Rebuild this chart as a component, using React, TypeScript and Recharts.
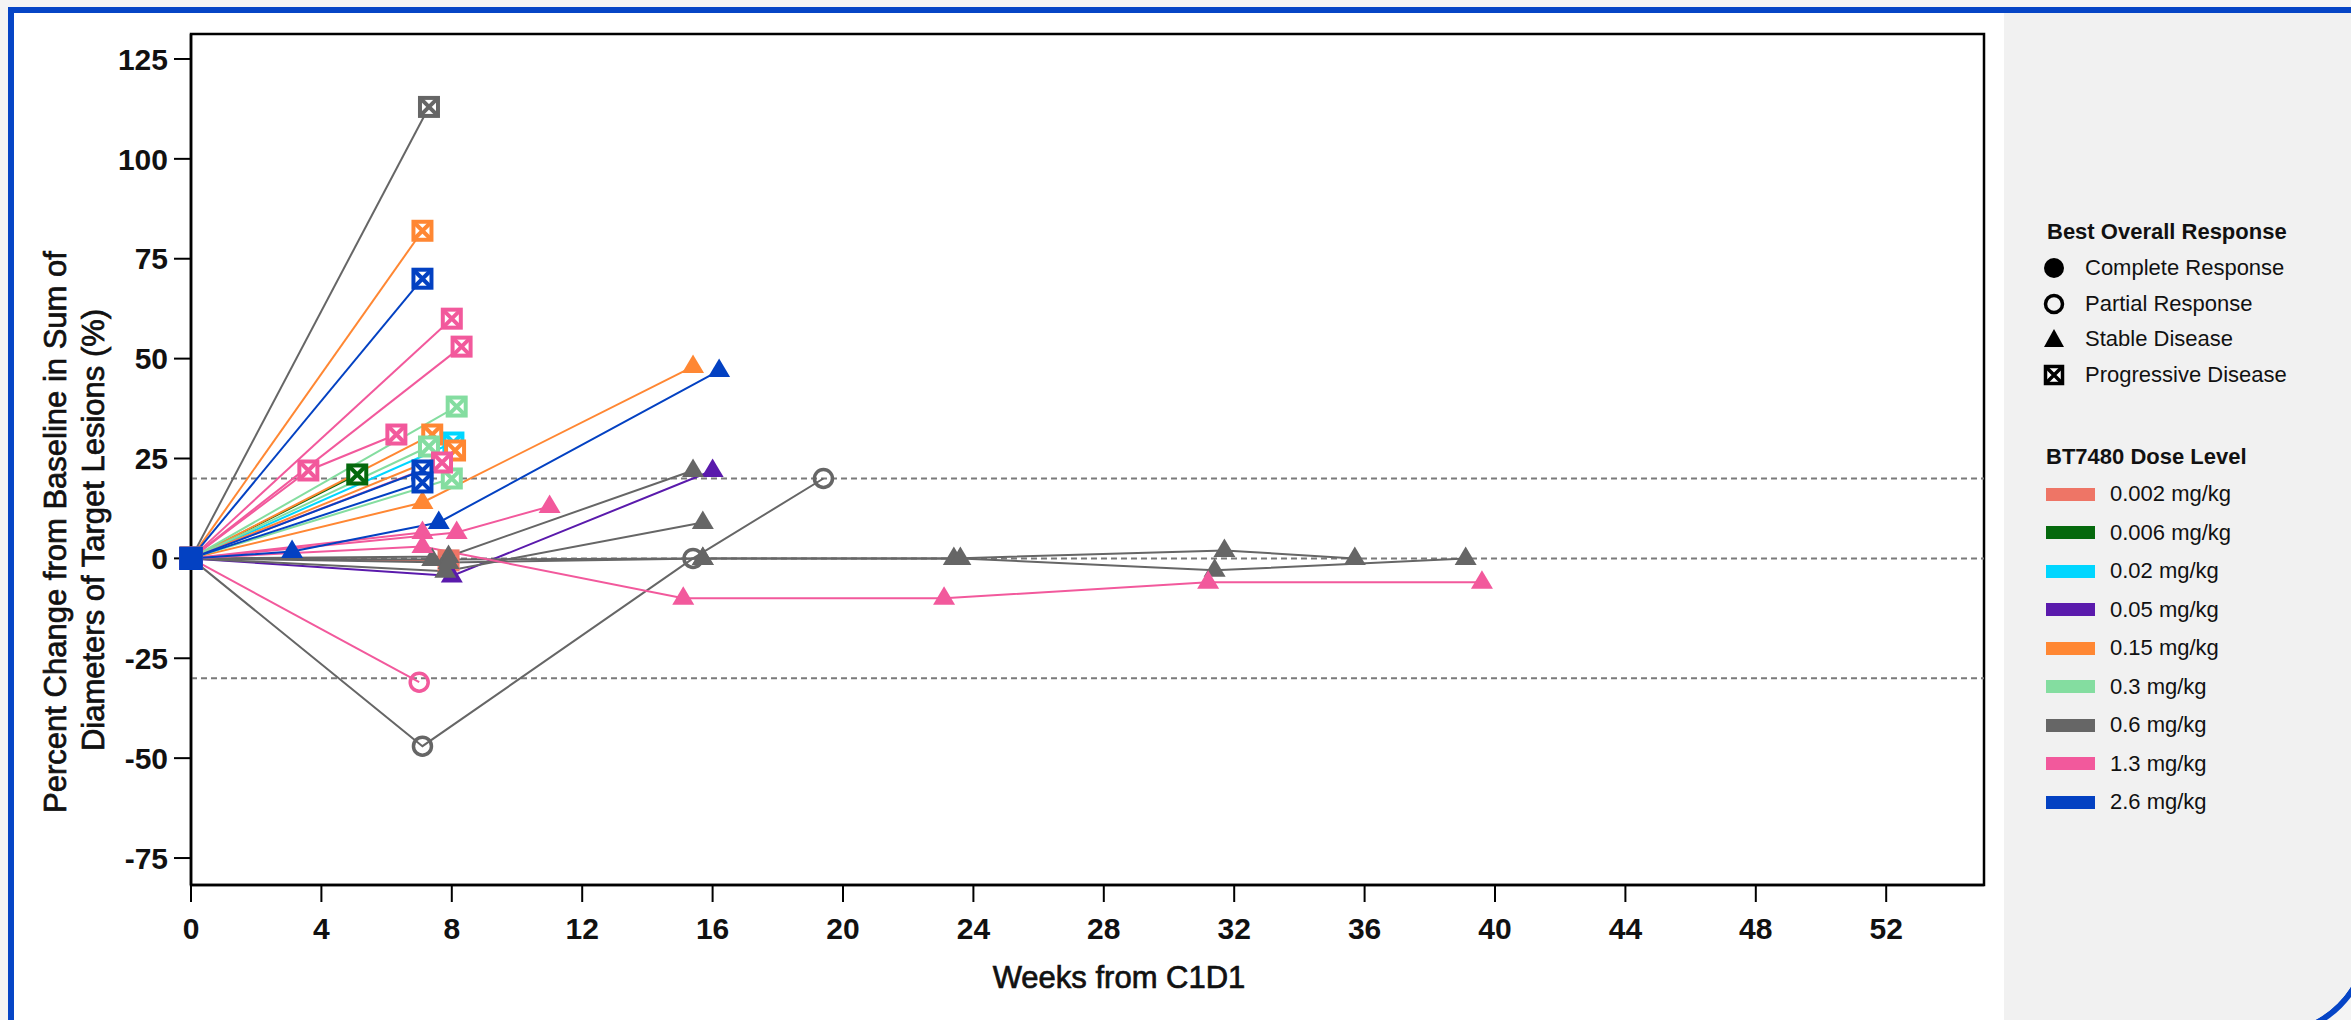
import React from 'react';
import { LineChart, Line, XAxis, YAxis, ReferenceLine, ReferenceArea, Label } from 'recharts';

// --- legend / dose levels ---
const doseLabels = ['0.002 mg/kg', '0.006 mg/kg', '0.02 mg/kg', '0.05 mg/kg', '0.15 mg/kg', '0.3 mg/kg', '0.6 mg/kg', '1.3 mg/kg', '2.6 mg/kg'];
const doseColors = ['#EE7566', '#05690D', '#00D6FF', '#5A1AAC', '#FF8733', '#84DDA0', '#666666', '#F2599C', '#0341C2'];
const responseCodes = ['CR', 'PR', 'SD', 'PD'];
const responseLabels = ['Complete Response', 'Partial Response', 'Stable Disease', 'Progressive Disease'];

// --- axes ---
const xTicks = [0, 4, 8, 12, 16, 20, 24, 28, 32, 36, 40, 44, 48, 52];
const yTicks = [-75, -50, -25, 0, 25, 50, 75, 100, 125];
const thresholds = [20, 0, -30];

// --- patients (drawing order, last one on top) ---
const patientDose = [0, 2, 1, 3, 4, 4, 4, 4, 5, 5, 5, 6, 6, 6, 6, 6, 6, 7, 7, 7, 7, 7, 7, 7, 7, 8, 8, 8, 8];
const patientResponse = ['PD', 'PD', 'PD', 'SD', 'PD', 'PD', 'PD', 'SD', 'PD', 'PD', 'PD', 'PD', 'PR', 'SD', 'SD', 'SD', 'SD', 'PD', 'PD', 'PD', 'PD', 'PR', 'SD', 'SD', 'SD', 'SD', 'PD', 'PD', 'PD'];
const patientWeeks = [
  [0, 7.9],
  [0, 8.05],
  [0, 5.1],
  [0, 8.0, 16.0],
  [0, 7.1],
  [0, 7.4],
  [0, 8.1],
  [0, 7.1, 15.4],
  [0, 8.15],
  [0, 7.3],
  [0, 8.0],
  [0, 7.3],
  [0, 7.1, 15.4, 19.4],
  [0, 7.9, 15.4],
  [0, 7.8, 15.7],
  [0, 7.4, 15.7, 23.4, 31.7, 35.7],
  [0, 7.9, 15.7, 23.6, 31.4, 39.1],
  [0, 8.0],
  [0, 8.3],
  [0, 3.6, 6.3],
  [0, 7.7],
  [0, 7.0],
  [0, 8.15, 11.0],
  [0, 7.1],
  [0, 7.1, 15.1, 23.1, 31.2, 39.6],
  [0, 3.1, 7.6, 16.2],
  [0, 7.1],
  [0, 7.1],
  [0, 7.1],
];
const patientChange = [
  [0, -0.5],
  [0, 29],
  [0, 21],
  [0, -4.4, 22],
  [0, 82],
  [0, 31],
  [0, 27],
  [0, 14, 48],
  [0, 38],
  [0, 28],
  [0, 20],
  [0, 113],
  [0, -47, 0, 20],
  [0, 0.5, 22],
  [0, -3.2, 9],
  [0, -0.3, 0, 0, 2, 0],
  [0, -1, 0, 0, -3, 0],
  [0, 60],
  [0, 53],
  [0, 22, 31],
  [0, 24],
  [0, -31],
  [0, 6.5, 13],
  [0, 6.5],
  [0, 3, -10, -10, -6, -6],
  [0, 1.7, 9, 47],
  [0, 70],
  [0, 22],
  [0, 19],
];

const Y_DOMAIN: [number, number] = [-81.75, 131.25];
const X_DOMAIN: [number, number] = [0, 55];
const FONT = '"Liberation Sans", Arial, sans-serif';
const FRAME_BLUE = '#0645c6';

const makeDot = (resp: string, color: string) => (props: any) => {
  const { cx, cy, index } = props;
  const key = `d-${index}`;
  if (cx == null || cy == null) return <g key={key} />;
  if (resp === 'PD') {
    // baseline marker is drawn solid
    if (index === 0) {
      return <rect key={key} x={cx - 11.5} y={cy - 11.5} width={23} height={23} fill={color} />;
    }
    return (
      <g key={key}>
        <rect x={cx - 9} y={cy - 9} width={18} height={18} fill="#fff" stroke={color} strokeWidth={4} />
        <path
          d={`M${cx - 9} ${cy - 9}L${cx + 9} ${cy + 9}M${cx + 9} ${cy - 9}L${cx - 9} ${cy + 9}`}
          stroke={color}
          strokeWidth={4}
        />
      </g>
    );
  }
  if (resp === 'SD') {
    return <path key={key} d={`M${cx} ${cy - 12}L${cx + 11} ${cy + 6.5}L${cx - 11} ${cy + 6.5}Z`} fill={color} />;
  }
  if (resp === 'PR') {
    return <circle key={key} cx={cx} cy={cy} r={9} fill="none" stroke={color} strokeWidth={3.5} />;
  }
  return <circle key={key} cx={cx} cy={cy} r={10} fill={color} />;
};

const ResponseSymbol = ({ code }: { code: string }) => (
  <svg width={24} height={24} viewBox="-12 -12 24 24" style={{ display: 'block' }}>
    {code === 'CR' && <circle r={10} fill="#000" />}
    {code === 'PR' && <circle r={8.5} fill="none" stroke="#000" strokeWidth={3.5} />}
    {code === 'SD' && <path d="M0 -10L10 8L-10 8Z" fill="#000" />}
    {code === 'PD' && (
      <g>
        <rect x={-8.5} y={-8.5} width={17} height={17} fill="#fff" stroke="#000" strokeWidth={3.5} />
        <path d="M-8.5 -8.5L8.5 8.5M8.5 -8.5L-8.5 8.5" stroke="#000" strokeWidth={3.5} />
      </g>
    )}
  </svg>
);

const App = () => {
  const series = patientWeeks.map((weeks, i) => ({
    data: weeks.map((w, j) => ({ w, v: patientChange[i][j] })),
    color: doseColors[patientDose[i]],
    resp: patientResponse[i],
  }));

  const tickStyle = { fill: '#111', fontSize: 30, fontFamily: FONT, fontWeight: 700 };

  return (
    <div
      style={{
        position: 'absolute',
        left: 0,
        top: 0,
        width: 2351,
        height: 1020,
        overflow: 'hidden',
        background: '#f4f4f4',
        fontFamily: FONT,
      }}
    >
      {/* slide frame */}
      <div
        style={{
          position: 'absolute',
          left: 8,
          top: 7,
          width: 2363,
          height: 1030,
          boxSizing: 'border-box',
          border: `6px solid ${FRAME_BLUE}`,
          borderBottomRightRadius: 100,
          background: '#fff',
          overflow: 'hidden',
        }}
      >
        <div style={{ position: 'absolute', left: 1990, top: 0, right: 0, bottom: 0, background: '#f1f1f1' }} />
      </div>

      <div style={{ position: 'absolute', left: 0, top: 0 }}>
        <LineChart width={2004} height={1020} margin={{ top: 34, right: 20, bottom: 0, left: 0 }}>
          <XAxis
            dataKey="w"
            type="number"
            domain={X_DOMAIN}
            ticks={xTicks}
            height={135}
            tickSize={17}
            tickMargin={16}
            tick={tickStyle}
            tickLine={{ stroke: '#000', strokeWidth: 2 }}
            axisLine={{ stroke: '#000', strokeWidth: 2.5 }}
          >
            <Label
              content={() => (
                <text x={1119} y={988} textAnchor="middle" fontSize={31} fontFamily={FONT} fill="#111" stroke="#111" strokeWidth={0.7}>
                  Weeks from C1D1
                </text>
              )}
            />
          </XAxis>
          <YAxis
            type="number"
            domain={Y_DOMAIN}
            ticks={yTicks}
            width={191}
            tickSize={17}
            tickMargin={6}
            tick={tickStyle}
            tickLine={{ stroke: '#000', strokeWidth: 2 }}
            axisLine={{ stroke: '#000', strokeWidth: 2.5 }}
          >
            <Label
              content={() => (
                <g fontSize={31} fontFamily={FONT} fill="#111" stroke="#111" strokeWidth={0.7}>
                  <text x={66} y={532} textAnchor="middle" transform="rotate(-90 66 532)">
                    Percent Change from Baseline in Sum of
                  </text>
                  <text x={104} y={530} textAnchor="middle" transform="rotate(-90 104 530)">
                    Diameters of Target Lesions (%)
                  </text>
                </g>
              )}
            />
          </YAxis>
          <ReferenceArea
            x1={X_DOMAIN[0]}
            x2={X_DOMAIN[1]}
            y1={Y_DOMAIN[0]}
            y2={Y_DOMAIN[1]}
            fill="none"
            stroke="#000"
            strokeWidth={2.5}
            ifOverflow="visible"
          />
          {thresholds.map((t) => (
            <ReferenceLine key={t} y={t} stroke="#7a7a7a" strokeWidth={2} strokeDasharray="6 4" />
          ))}
          {series.map((s, i) => (
            <Line
              key={i}
              data={s.data}
              dataKey="v"
              type="linear"
              stroke={s.color}
              strokeWidth={2}
              dot={makeDot(s.resp, s.color)}
              activeDot={false}
              isAnimationActive={false}
            />
          ))}
        </LineChart>
      </div>

      {/* legend */}
      <div style={{ position: 'absolute', left: 2047, top: 232, transform: 'translateY(-50%)', fontSize: 22, fontWeight: 700, color: '#111' }}>
        Best Overall Response
      </div>
      {responseCodes.map((code, i) => (
        <div
          key={code}
          style={{ position: 'absolute', left: 2042, top: 268 + i * 35.7, transform: 'translateY(-50%)', display: 'flex', alignItems: 'center', fontSize: 22, color: '#111' }}
        >
          <ResponseSymbol code={code} />
          <span style={{ marginLeft: 19 }}>{responseLabels[i]}</span>
        </div>
      ))}
      <div style={{ position: 'absolute', left: 2046, top: 457, transform: 'translateY(-50%)', fontSize: 22, fontWeight: 700, color: '#111' }}>
        BT7480 Dose Level
      </div>
      {doseLabels.map((label, i) => (
        <div
          key={label}
          style={{ position: 'absolute', left: 2046, top: 494 + i * 38.5, transform: 'translateY(-50%)', display: 'flex', alignItems: 'center', fontSize: 22, color: '#111' }}
        >
          <div style={{ width: 49, height: 13, background: doseColors[i] }} />
          <span style={{ marginLeft: 15 }}>{label}</span>
        </div>
      ))}
    </div>
  );
};

export default App;
